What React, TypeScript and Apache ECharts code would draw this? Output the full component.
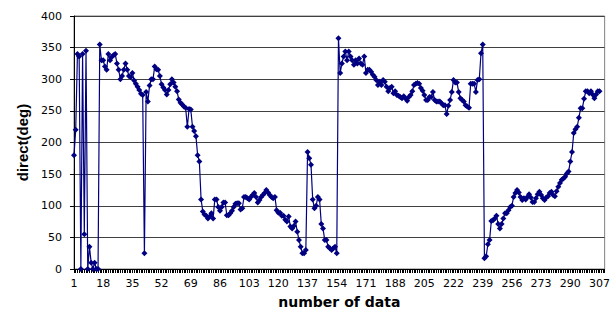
import React, { useEffect, useRef } from "react";
import * as echarts from "echarts";

// x categories: sample numbers 1..310 (last labelled tick is 307)
const categoryCount = 310;
const categories: string[] = Array.from({ length: categoryCount }, (_, i) => String(i + 1));

// direction values (deg), samples 1..307
const dirPart1 = [180, 220, 340, 336, 0, 340, 55, 345, 0, 35, 10, 0, 10, 0, 0, 355,
  330, 330, 320, 315, 340, 330, 335, 338, 340, 325, 315, 300, 305, 315, 325, 315, 305, 303, 310, 298, 293, 288, 283, 277, 275,
  25];
const dirPart2 = [280, 265, 290, 300, 300, 320, 316, 315, 305, 292, 287, 283, 276, 283, 292, 300, 295, 288, 281, 268, 263, 260, 257, 255, 225, 253, 252, 225, 218, 210, 180, 170, 110,
  91, 86, 84, 80, 83, 88, 80, 110, 110, 98, 92, 98, 105, 105, 85, 85, 88, 92, 98, 103, 104, 104, 94, 96, 114, 114, 112, 110, 114, 117, 120, 114, 105, 109, 114, 117, 120, 125, 121, 117, 114, 112, 114];
const dirPart3 = [93, 89, 89, 84, 84, 78, 75, 83, 67, 64, 68, 75, 59, 46, 35, 25, 25, 30,
  185, 175, 165, 110, 96, 100, 114, 110, 71, 64, 46, 46, 35, 33, 30, 33, 35, 25, 365];
const dirPart4 = [310, 325, 336, 344, 330, 344, 336, 330, 323, 330, 325, 333, 325, 323, 336, 310, 315, 315, 312, 307,
  304, 299, 291, 296, 291, 299, 296, 288, 281, 286, 288, 278, 281, 275, 274, 272, 270, 273, 270, 266,
  272, 275, 281, 291, 293, 294, 293, 286,
  282, 275, 267, 267, 272, 272, 280, 267, 265, 265, 265, 262, 259, 259, 245, 258, 267, 280, 299, 295,
  295, 280, 270, 267, 265, 259, 257, 255, 293, 293, 293, 280, 299, 300, 341, 355];
const dirPart5 = [17, 20, 39, 46, 76, 77, 80, 84, 71, 64, 71, 80, 88, 88, 93, 98, 100, 114, 120, 125,
  121, 114, 109, 112, 110, 114, 118, 113, 106, 106, 112, 118, 122, 117, 112, 109, 113, 115, 120, 122,
  117, 115, 123, 130, 136, 141, 143, 146, 151, 154, 170, 185, 215, 221, 225, 239, 254, 254, 269, 281,
  281, 278, 281, 276, 270, 276, 281, 281];
const direction = [...dirPart1, ...dirPart2, ...dirPart3, ...dirPart4, ...dirPart5];

const yMin = 0;
const yMax = 400;
const yStep = 50;

export default function App() {
  const ref = useRef<HTMLDivElement>(null);
  useEffect(() => {
    if (!ref.current) return;
    const chart = echarts.init(ref.current, undefined, { renderer: "svg" });
    const tickFont = '"DejaVu Sans", sans-serif';
    chart.setOption({
      animation: false,
      backgroundColor: "#ffffff",
      grid: {
        left: 74,
        right: 8,
        top: 16,
        bottom: 45,
        show: true,
        borderColor: "#808080",
        borderWidth: 1,
        backgroundColor: "transparent",
      },
      xAxis: {
        type: "category",
        data: categories,
        boundaryGap: false,
        name: "number of data",
        nameLocation: "middle",
        nameGap: 26,
        nameTextStyle: { fontFamily: tickFont, fontWeight: "bold", fontSize: 14, color: "#000" },
        axisLine: { show: true, lineStyle: { color: "#000", width: 1 } },
        axisTick: { show: true, interval: 0, length: 4, lineStyle: { color: "#000", width: 1 } },
        axisLabel: { interval: 16, margin: 9, fontFamily: tickFont, fontSize: 11, color: "#000" },
        splitLine: { show: false },
      },
      yAxis: {
        type: "value",
        min: yMin,
        max: yMax,
        interval: yStep,
        name: "direct(deg)",
        nameLocation: "middle",
        nameGap: 44,
        nameRotate: 90,
        nameTextStyle: { fontFamily: '"Liberation Sans", Arial, sans-serif', fontWeight: "bold", fontSize: 15, color: "#000" },
        axisLine: { show: true, lineStyle: { color: "#000", width: 1 } },
        axisTick: { show: true, length: 4, lineStyle: { color: "#000" } },
        axisLabel: { margin: 12, fontFamily: tickFont, fontSize: 11, color: "#000" },
        splitLine: { show: true, lineStyle: { color: "#404040", width: 1 } },
      },
      series: [
        {
          type: "line",
          data: direction,
          color: "#000080",
          lineStyle: { color: "#000080", width: 1.2 },
          itemStyle: { color: "#000080" },
          symbol: "diamond",
          symbolSize: 6,
          showSymbol: true,
          showAllSymbol: true,
          z: 5,
        },
      ],
    });
    return () => chart.dispose();
  }, []);
  return (
    <div
      ref={ref}
      style={{ position: "fixed", left: 0, top: 0, width: 613, height: 314, background: "#fff" }}
    />
  );
}
